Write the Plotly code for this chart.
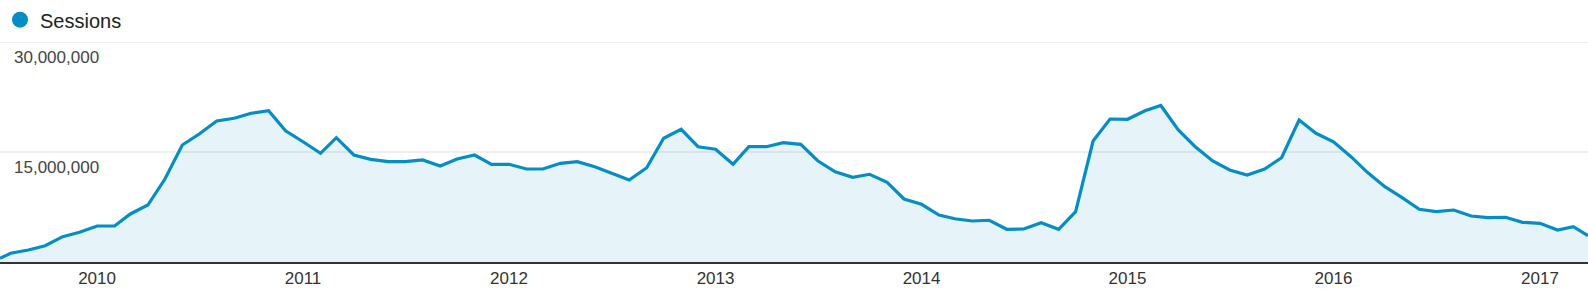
import plotly.graph_objects as go

# Data (monthly sessions)
dates = [
    "2009-07-13", "2009-08-01", "2009-09-01", "2009-10-01", "2009-11-01", "2009-12-01",
    "2010-01-01", "2010-02-01", "2010-03-01", "2010-04-01", "2010-05-01", "2010-06-01",
    "2010-07-01", "2010-08-01", "2010-09-01", "2010-10-01", "2010-11-01", "2010-12-01",
    "2011-01-01", "2011-02-01", "2011-03-01", "2011-04-01", "2011-05-01", "2011-06-01",
    "2011-07-01", "2011-08-01", "2011-09-01", "2011-10-01", "2011-11-01", "2011-12-01",
    "2012-01-01", "2012-02-01", "2012-03-01", "2012-04-01", "2012-05-01", "2012-06-01",
    "2012-07-01", "2012-08-01", "2012-09-01", "2012-10-01", "2012-11-01", "2012-12-01",
    "2013-01-01", "2013-02-01", "2013-03-01", "2013-04-01", "2013-05-01", "2013-06-01",
    "2013-07-01", "2013-08-01", "2013-09-01", "2013-10-01", "2013-11-01", "2013-12-01",
    "2014-01-01", "2014-02-01", "2014-03-01", "2014-04-01", "2014-05-01", "2014-06-01",
    "2014-07-01", "2014-08-01", "2014-09-01", "2014-10-01", "2014-11-01", "2014-12-01",
    "2015-01-01", "2015-02-01", "2015-03-01", "2015-04-01", "2015-05-01", "2015-06-01",
    "2015-07-01", "2015-08-01", "2015-09-01", "2015-10-01", "2015-11-01", "2015-12-01",
    "2016-01-01", "2016-02-01", "2016-03-01", "2016-04-01", "2016-05-01", "2016-06-01",
    "2016-07-01", "2016-08-01", "2016-09-01", "2016-10-01", "2016-11-01", "2016-12-01",
    "2017-01-01", "2017-02-01", "2017-03-01", "2017-03-27",
]

sessions_millions = [
    0.50, 1.19, 1.64, 2.22, 3.45, 4.05,
    4.91, 4.91, 6.55, 7.77, 11.28, 15.95,
    17.45, 19.23, 19.60, 20.28, 20.63, 17.90,
    16.40, 14.82, 16.95, 14.59, 14.00, 13.68,
    13.68, 13.91, 13.09, 14.05, 14.59, 13.32,
    13.32, 12.68, 12.68, 13.46, 13.68, 13.00,
    12.10, 11.18, 12.86, 16.87, 18.10, 15.72,
    15.37, 13.32, 15.72, 15.72, 16.27, 16.05,
    13.81, 12.31, 11.55, 11.96, 10.87, 8.59,
    7.87, 6.41, 5.90, 5.59, 5.69, 4.46,
    4.50, 5.36, 4.46, 6.86, 16.50, 19.50,
    19.46, 20.63, 21.34, 18.00, 15.72, 13.77,
    12.55, 11.86, 12.68, 14.22, 19.36, 17.55,
    16.40, 14.36, 12.23, 10.27, 8.82, 7.19,
    6.86, 7.09, 6.27, 6.04, 6.10, 5.41,
    5.28, 4.36, 4.81, 3.59,
]
sessions = [round(v * 1_000_000) for v in sessions_millions]

series_name = "Sessions"
x_tick_values = ["2010-01-01", "2011-01-01", "2012-01-01", "2013-01-01",
                 "2014-01-01", "2015-01-01", "2016-01-01", "2017-01-01"]
x_tick_labels = ["2010", "2011", "2012", "2013", "2014", "2015", "2016", "2017"]
y_tick_values = [15_000_000, 30_000_000]
y_tick_labels = ["15,000,000", "30,000,000"]

BLUE = "#058dc7"
FONT = "Liberation Sans, Arial, sans-serif"
GRID = "#efefef"

fig = go.Figure()
fig.add_trace(go.Scatter(
    x=dates, y=sessions, mode="lines",
    line=dict(color=BLUE, width=3.2),
    fill="tozeroy", fillcolor="rgba(5,141,199,0.1)",
    showlegend=False, hoverinfo="x+y",
))
# legend entry (dot)
fig.add_trace(go.Scatter(
    x=[None], y=[None], mode="markers", name=series_name,
    marker=dict(color=BLUE, size=16, symbol="circle"),
))

for v, t in zip(y_tick_values, y_tick_labels):
    fig.add_annotation(
        x=0, xref="paper", y=v, yref="y", text=t, showarrow=False,
        xanchor="left", yanchor="middle", xshift=12, yshift=-15,
        font=dict(family=FONT, size=17, color="#444"),
    )
    # explicit gridline (the top one sits on the plot edge)
    fig.add_shape(
        type="line", xref="paper", x0=0, x1=1, yref="y", y0=v, y1=v,
        line=dict(color=GRID, width=2), layer="below",
    )

fig.update_layout(
    width=1588, height=293,
    margin=dict(l=0, r=0, t=42, b=31),
    paper_bgcolor="white", plot_bgcolor="white",
    font=dict(family=FONT, size=17, color="#333"),
    legend=dict(
        x=0, y=1.19, xanchor="left", yanchor="top",
        orientation="h", font=dict(family=FONT, size=20, color="#222"),
        itemsizing="trace", bgcolor="rgba(0,0,0,0)",
    ),
    xaxis=dict(
        range=[dates[0], dates[-1]],
        tickvals=x_tick_values, ticktext=x_tick_labels,
        showgrid=False, ticks="", showline=True, linecolor="#333", linewidth=2,
        tickfont=dict(family=FONT, size=17, color="#333"),
        zeroline=False, fixedrange=True,
    ),
    yaxis=dict(
        range=[0, 30_000_000],
        tickvals=y_tick_values, showticklabels=False,
        showgrid=False, zeroline=False, showline=False, fixedrange=True,
    ),
)

fig.write_html(
    "out.html",
    config={"displayModeBar": False},
    post_script="document.body.style.margin='0';",
)
